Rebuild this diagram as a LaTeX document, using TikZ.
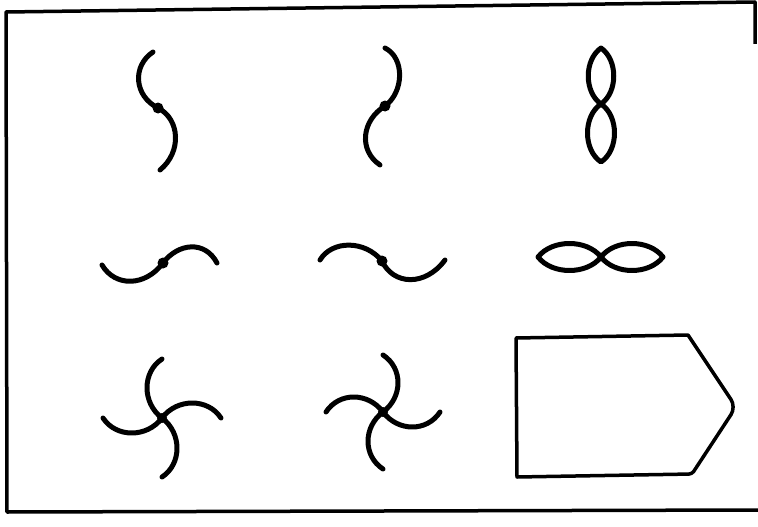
\documentclass[tikz,border=0pt]{standalone}
\begin{document}
\begin{tikzpicture}[x=1pt,y=-1pt,
	curve/.style={line width=5pt,line cap=round,line join=round},
	edge/.style={line width=3.5pt,line join=round}]
	\useasboundingbox (0,0) rectangle (758,527);
	% frame
	\draw[edge] (755,44)--(755,2)--(6,12)--(7,512)--(758,510);
	% S curves, top row
	\draw[curve] (153,52) .. controls (132,66) and (134,96) .. (158,108)
		.. controls (180,119) and (182,152) .. (160,170);
	\fill (158,108) circle (5.5);
	\draw[curve] (385,48) .. controls (405,58) and (404,92) .. (385,106)
		.. controls (362,120) and (358,150) .. (380,165);
	\fill (385,106) circle (5.5);
	\draw[curve] (601,48) .. controls (584,60) and (584,92) .. (601,104)
		.. controls (618,92) and (618,60) .. (601,48);
	\draw[curve] (601,104) .. controls (583,116) and (583,150) .. (601,162)
		.. controls (619,150) and (619,116) .. (601,104);
	% middle row
	\draw[curve] (102,265) .. controls (115,287) and (145,287) .. (163,263)
		.. controls (178,243) and (205,240) .. (217,263);
	\fill (163,263) circle (5.5);
	\draw[curve] (320,260) .. controls (332,240) and (365,240) .. (382,261)
		.. controls (393,285) and (425,287) .. (445,260);
	\fill (382,261) circle (5.5);
	\draw[curve] (538,257) .. controls (552,239) and (587,239) .. (601,257)
		.. controls (587,275) and (552,275) .. (538,257);
	\draw[curve] (601,257) .. controls (615,239) and (649,239) .. (663,257)
		.. controls (649,275) and (615,275) .. (601,257);
	% pinwheels
	\foreach \a in {0,90,180,270}{
		\draw[curve,shift={(162,418)},rotate=\a] (0,0) .. controls (-20,-15) and (-20,-46) .. (0,-59);
		\draw[curve,shift={(383,412)},rotate=\a,xscale=-1] (0,0) .. controls (-20,-15) and (-20,-44) .. (0,-57);
	}
	\fill (162,418) circle (5);
	\fill (383,412) circle (5);
	% tag
	\draw[edge] (516,338) -- (688,335) [rounded corners=9pt] -- (736,407) [rounded corners=3pt] -- (692,474) [sharp corners] -- (517,477) -- cycle;
\end{tikzpicture}
\end{document}
